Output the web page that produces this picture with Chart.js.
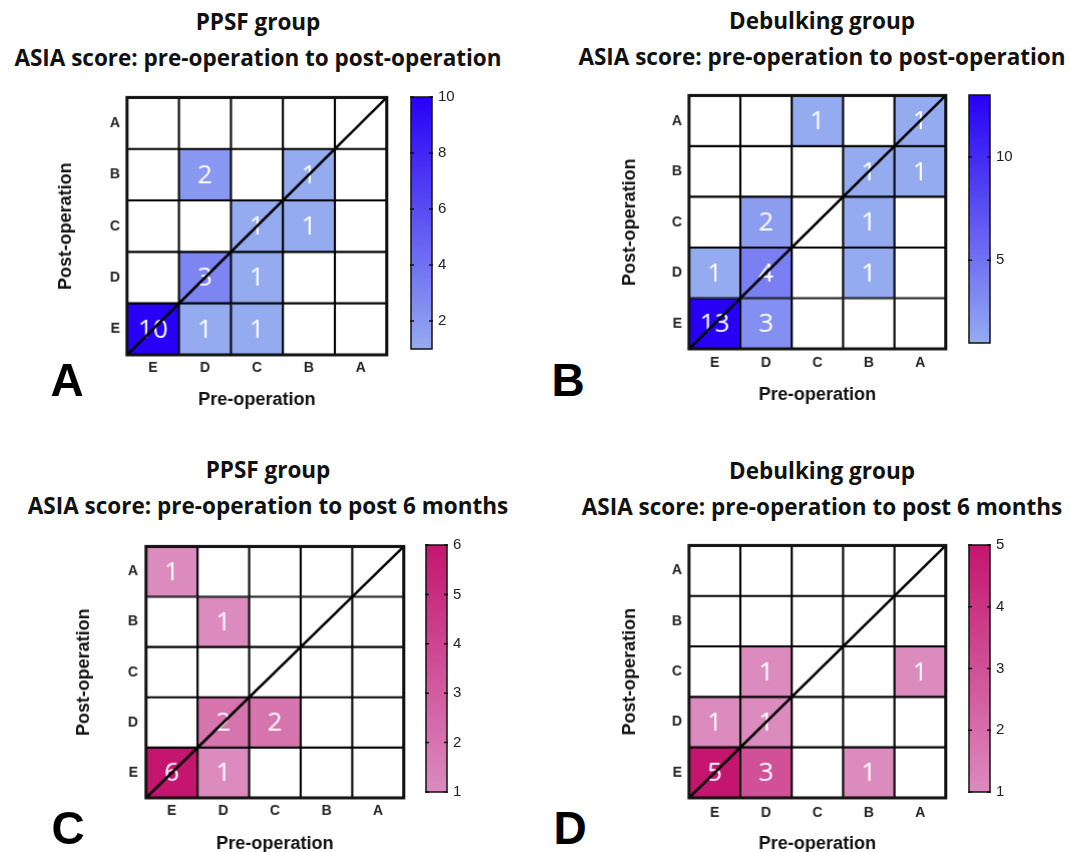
<!DOCTYPE html>
<html>
<head>
<meta charset="utf-8">
<script src="https://cdn.jsdelivr.net/npm/chart.js@4.4.1/dist/chart.umd.min.js"></script>
<style>
  html, body { margin: 0; padding: 0; background: #fff; }
  body { width: 1070px; height: 852px; position: relative; overflow: hidden; }
  .box { position: absolute; }
  .title { position: absolute; transform: translateX(-50%); white-space: nowrap; text-align: center;
           font-family: "Open Sans", sans-serif; font-weight: 700; font-size: 22.5px; line-height: 36px; color: #111; }
  .letter { position: absolute; transform: translate(-50%, -50%); line-height: 1;
            font-family: "Liberation Sans", Arial, sans-serif; font-weight: 700; font-size: 46px; color: #000; }
</style>
</head>
<body>
<script>
// rows = post-operation A..E (top to bottom), columns = pre-operation E..A
const preLabels = ['E', 'D', 'C', 'B', 'A'];
const postLabels = ['A', 'B', 'C', 'D', 'E'];

const ppsfPostOp = [
    [0, 0, 0, 0, 0],
    [0, 2, 0, 1, 0],
    [0, 0, 1, 1, 0],
    [0, 3, 1, 0, 0],
    [10, 1, 1, 0, 0]
];
const debulkPostOp = [
    [0, 0, 1, 0, 1],
    [0, 0, 0, 1, 1],
    [0, 2, 0, 1, 0],
    [1, 4, 0, 1, 0],
    [13, 3, 0, 0, 0]
];
const ppsf6m = [
    [1, 0, 0, 0, 0],
    [0, 1, 0, 0, 0],
    [0, 0, 0, 0, 0],
    [0, 2, 2, 0, 0],
    [6, 1, 0, 0, 0]
];
const debulk6m = [
    [0, 0, 0, 0, 0],
    [0, 0, 0, 0, 0],
    [0, 1, 0, 0, 1],
    [1, 1, 0, 0, 0],
    [5, 3, 0, 1, 0]
];

// colour bar tick labels
const ticksA = [2, 4, 6, 8, 10];
const ticksB = [5, 10];
const ticksC = [1, 2, 3, 4, 5, 6];
const ticksD = [1, 2, 3, 4, 5];

const blueScale = [[149, 171, 240], [40, 0, 245]];
const pinkScale = [[219, 139, 190], [196, 22, 111]];

const panels = [
    { id: 'A', line1: 'PPSF group', line2: 'ASIA score: pre-operation to post-operation',
      data: ppsfPostOp, ticks: ticksA, scale: blueScale,
      grid: [127, 92, 386, 354], yTickX: 115, xTickY: 367, yTitleX: 66, xTitleY: 399,
      cb: [410, 92, 432, 354], titleX: 258, titleTop: 4, letterX: 67, letterY: 380 },
    { id: 'B', line1: 'Debulking group', line2: 'ASIA score: pre-operation to post-operation',
      data: debulkPostOp, ticks: ticksB, scale: blueScale,
      grid: [689, 90, 945, 348], yTickX: 677, xTickY: 362, yTitleX: 630, xTitleY: 394,
      cb: [968, 90, 990, 348], titleX: 822, titleTop: 3, letterX: 568, letterY: 380 },
    { id: 'C', line1: 'PPSF group', line2: 'ASIA score: pre-operation to post 6 months',
      data: ppsf6m, ticks: ticksC, scale: pinkScale,
      grid: [146, 540, 403, 797], yTickX: 133, xTickY: 810, yTitleX: 84, xTitleY: 843,
      cb: [425, 540, 447, 797], titleX: 268, titleTop: 452, letterX: 68, letterY: 828 },
    { id: 'D', line1: 'Debulking group', line2: 'ASIA score: pre-operation to post 6 months',
      data: debulk6m, ticks: ticksD, scale: pinkScale,
      grid: [689, 540, 945, 797], yTickX: 677, xTickY: 812, yTitleX: 630, xTitleY: 843,
      cb: [968, 540, 990, 797], titleX: 822, titleTop: 453, letterX: 570, letterY: 828 }
];

function mix(scale, t) {
    const [lo, hi] = scale;
    const c = lo.map((v, i) => Math.round(v + (hi[i] - v) * t));
    return `rgb(${c[0]},${c[1]},${c[2]})`;
}

function cellColour(v, min, max, scale) {
    if (v <= 0) return '#ffffff';
    return mix(scale, (v - min) / (max - min));
}

const tickFont = { family: 'Liberation Sans, Arial, sans-serif', size: 14, weight: 'bold' };
const axisTitleFont = { family: 'Liberation Sans, Arial, sans-serif', size: 18, weight: 'bold', lineHeight: 1.2 };

// numbers, diagonal and outer frame
const heatPlugin = {
    id: 'heatExtras',
    afterDatasetsDraw(chart) {
        const ctx = chart.ctx;
        const area = chart.chartArea;
        ctx.save();
        ctx.fillStyle = '#ffffff';
        ctx.font = '26px "Open Sans", sans-serif';
        ctx.textAlign = 'center';
        ctx.textBaseline = 'middle';
        chart.data.datasets.forEach((ds, di) => {
            chart.getDatasetMeta(di).data.forEach((bar, i) => {
                const v = ds.counts[i];
                if (v > 0) ctx.fillText(String(v), bar.x, (bar.y + bar.base) / 2 + 1);
            });
        });
        ctx.strokeStyle = '#000';
        ctx.lineWidth = 2.5;
        ctx.beginPath();
        ctx.moveTo(area.left, area.bottom);
        ctx.lineTo(area.right, area.top);
        ctx.stroke();
        ctx.lineWidth = 3;
        ctx.strokeStyle = '#111';
        ctx.strokeRect(area.left, area.top, area.right - area.left, area.bottom - area.top);
        ctx.restore();
    }
};

const barTickPlugin = {
    id: 'barTicks',
    afterDatasetsDraw(chart) {
        const ctx = chart.ctx;
        const area = chart.chartArea;
        const y = chart.scales.y;
        ctx.save();
        ctx.strokeStyle = '#111';
        ctx.lineWidth = 1.5;
        y.ticks.forEach(t => {
            const py = y.getPixelForValue(t.value);
            ctx.beginPath();
            ctx.moveTo(area.left - 1, py); ctx.lineTo(area.left + 3, py);
            ctx.moveTo(area.right - 3, py); ctx.lineTo(area.right + 1, py);
            ctx.stroke();
        });
        ctx.strokeRect(area.left, area.top, area.right - area.left, area.bottom - area.top);
        ctx.restore();
    }
};

function addBox(left, top, width, height) {
    const div = document.createElement('div');
    div.className = 'box';
    div.style.left = left + 'px';
    div.style.top = top + 'px';
    div.style.width = width + 'px';
    div.style.height = height + 'px';
    const canvas = document.createElement('canvas');
    div.appendChild(canvas);
    document.body.appendChild(div);
    return canvas;
}

function drawPanel(p) {
    const [gl, gt, gr, gb] = p.grid;
    const half = axisTitleFont.size * axisTitleFont.lineHeight / 2;
    const left = p.yTitleX - half;
    const top = gt - 10;
    const right = gr + 6;
    const bottom = p.xTitleY + half;
    const yAxisW = gl - left;
    const xAxisH = bottom - gb;

    const flat = p.data.flat().filter(v => v > 0);
    const min = Math.min(...flat);
    const max = Math.max(...flat);

    const datasets = postLabels.map((post, r) => ({
        label: post,
        data: p.data[r].map(() => [4 - r, 5 - r]),
        counts: p.data[r],
        backgroundColor: p.data[r].map(v => cellColour(v, min, max, p.scale)),
        borderColor: '#000',
        borderWidth: 1.4,
        borderSkipped: false,
        barPercentage: 1,
        categoryPercentage: 1,
        grouped: false
    }));

    new Chart(addBox(left, top, right - left, bottom - top), {
        type: 'bar',
        data: { labels: preLabels, datasets },
        options: {
            responsive: true,
            maintainAspectRatio: false,
            animation: false,
            events: [],
            layout: { autoPadding: false, padding: { top: 10, right: 6, left: 0, bottom: 0 } },
            plugins: { legend: { display: false }, tooltip: { enabled: false } },
            scales: {
                x: {
                    type: 'category',
                    offset: true,
                    grid: { display: false, drawTicks: false },
                    border: { display: false },
                    ticks: { color: '#222', font: tickFont, padding: p.xTickY - gb - 8, maxRotation: 0 },
                    title: { display: true, text: 'Pre-operation', color: '#111', font: axisTitleFont, padding: 0 },
                    afterFit: s => { s.height = xAxisH; }
                },
                y: {
                    type: 'linear',
                    min: 0,
                    max: 5,
                    grid: { display: false, drawTicks: false },
                    border: { display: false },
                    afterBuildTicks: s => { s.ticks = postLabels.map((_, r) => ({ value: 4.5 - r })); },
                    ticks: {
                        autoSkip: false,
                        color: '#222',
                        font: tickFont,
                        padding: gl - p.yTickX - 5,
                        callback: v => postLabels[Math.round(4.5 - v)]
                    },
                    title: { display: true, text: 'Post-operation', color: '#111', font: axisTitleFont, padding: 0 },
                    afterFit: s => { s.width = yAxisW; }
                }
            }
        },
        plugins: [heatPlugin]
    });

    // colour bar
    const [cl, ct, cr, cbm] = p.cb;
    const labW = 40;
    new Chart(addBox(cl, ct - 10, cr - cl + labW, cbm - ct + 20), {
        type: 'bar',
        data: {
            labels: [''],
            datasets: [{
                data: [[min, max]],
                barPercentage: 1,
                categoryPercentage: 1,
                borderWidth: 0,
                backgroundColor: ctx => {
                    const area = ctx.chart.chartArea;
                    if (!area) return mix(p.scale, 0.5);
                    const g = ctx.chart.ctx.createLinearGradient(0, area.bottom, 0, area.top);
                    g.addColorStop(0, mix(p.scale, 0));
                    g.addColorStop(1, mix(p.scale, 1));
                    return g;
                }
            }]
        },
        options: {
            responsive: true,
            maintainAspectRatio: false,
            animation: false,
            events: [],
            layout: { autoPadding: false, padding: { top: 10, bottom: 10, left: 1, right: 0 } },
            plugins: { legend: { display: false }, tooltip: { enabled: false } },
            scales: {
                x: { display: false },
                y: {
                    type: 'linear',
                    position: 'right',
                    min: min,
                    max: max,
                    grid: { display: false, drawTicks: false },
                    border: { display: false },
                    afterBuildTicks: s => { s.ticks = p.ticks.map(v => ({ value: v })); },
                    ticks: {
                        autoSkip: false,
                        color: '#222',
                        padding: 6,
                        font: { family: 'Liberation Sans, Arial, sans-serif', size: 15 }
                    },
                    afterFit: s => { s.width = labW; }
                }
            }
        },
        plugins: [barTickPlugin]
    });

    const t = document.createElement('div');
    t.className = 'title';
    t.style.left = p.titleX + 'px';
    t.style.top = p.titleTop + 'px';
    t.innerHTML = p.line1 + '<br>' + p.line2;
    document.body.appendChild(t);

    const l = document.createElement('div');
    l.className = 'letter';
    l.style.left = p.letterX + 'px';
    l.style.top = p.letterY + 'px';
    l.textContent = p.id;
    document.body.appendChild(l);
}

panels.forEach(drawPanel);
</script>
</body>
</html>
